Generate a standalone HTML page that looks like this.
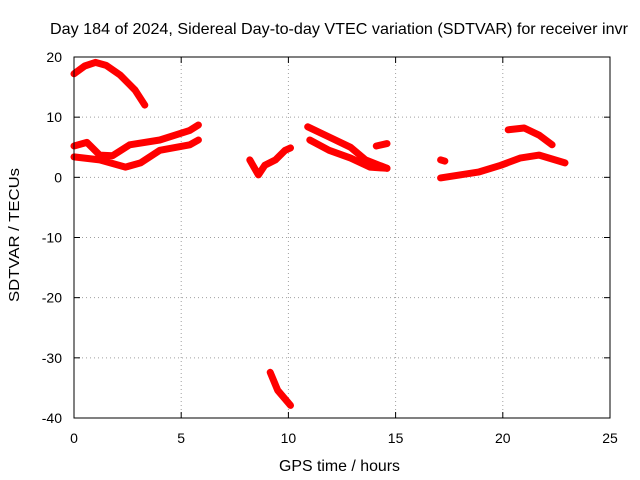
<!DOCTYPE html>
<html><head><meta charset="utf-8"><style>
body{margin:0;background:#fff}
svg{display:block;font-family:"Liberation Sans",sans-serif}
</style></head><body>
<svg id="c" width="640" height="480">
<text x="50" y="34" font-size="16" textLength="578" lengthAdjust="spacingAndGlyphs">Day 184 of 2024, Sidereal Day-to-day VTEC variation (SDTVAR) for receiver invr</text>
<text x="279" y="471" font-size="16" textLength="121" lengthAdjust="spacingAndGlyphs">GPS time / hours</text>
<text transform="translate(19,302) rotate(-90)" font-size="15" textLength="134" lengthAdjust="spacingAndGlyphs">SDTVAR / TECUs</text>
<g id="grid"></g><g id="ticks"></g><g id="marks"></g>
<rect x="74" y="57" width="536" height="361" fill="none" stroke="#000"/>
</svg>
<script>
const xTicks=[0,5,10,15,20,25];
const yTicks=[20,10,0,-10,-20,-30,-40];
const t1=[0,0.5,1,1.5,2.15,2.85,3.3];const v1=[17.2,18.5,19.1,18.6,17,14.5,12];
const t2=[0,0.6,1.2,1.8,2.6,4,5.4,5.8];const v2=[5.2,5.8,3.7,3.6,5.4,6.2,7.8,8.7];
const t3=[0,1.2,2.4,3.1,4,5.4,5.8];const v3=[3.4,2.9,1.7,2.4,4.5,5.4,6.2];
const t4=[8.2,8.6,8.9,9.4,9.85,10.1];const v4=[2.9,0.4,2,2.9,4.5,4.9];
const t5=[9.15,9.5,10.1];const v5=[-32.4,-35.4,-37.9];
const t6=[10.9,11.9,12.9,13.6,14.6];const v6=[8.4,6.7,5,2.9,1.5];
const t7=[11,11.9,12.9,13.8,14.6];const v7=[6.2,4.5,3.2,1.7,1.5];
const t8=[14.1,14.6];const v8=[5.2,5.6];
const t9=[17.1,17.3];const v9=[2.9,2.7];
const t10=[17.1,18,18.9,19.9,20.8,21.7,22.9];const v10=[-0.1,0.4,0.9,2,3.2,3.7,2.4];
const t11=[20.25,21,21.7,22.3];const v11=[7.9,8.2,7,5.4];
const tracks=[[t1,v1],[t2,v2],[t3,v3],[t4,v4],[t5,v5],[t6,v6],[t7,v7],[t8,v8],[t9,v9],[t10,v10],[t11,v11]];
const X=t=>74+t*536/25, Y=v=>57+(20-v)*361/60;
const NS="http://www.w3.org/2000/svg";
function mk(tag,attrs,parent){const e=document.createElementNS(NS,tag);for(const k in attrs)e.setAttribute(k,attrs[k]);document.getElementById(parent).appendChild(e);return e;}
xTicks.forEach(t=>{
 if(t>0&&t<25){const g=mk('line',{x1:X(t),x2:X(t),y1:57,y2:418,stroke:'#a0a0a0','stroke-dasharray':'1,3'},'grid');
 
 }
 mk('line',{x1:X(t),x2:X(t),y1:418,y2:412,stroke:'#000'},'ticks');
 mk('line',{x1:X(t),x2:X(t),y1:57,y2:63,stroke:'#000'},'ticks');
 const l=mk('text',{x:X(t),y:443,'font-size':14,'text-anchor':'middle'},'ticks');l.textContent=t;
 
 
});
yTicks.forEach(v=>{
 if(v<20&&v>-40){const g=mk('line',{x1:74,x2:610,y1:Y(v),y2:Y(v),stroke:'#a0a0a0','stroke-dasharray':'1,3'},'grid');
 
 }
 mk('line',{x1:74,x2:80,y1:Y(v),y2:Y(v),stroke:'#000'},'ticks');
 mk('line',{x1:604,x2:610,y1:Y(v),y2:Y(v),stroke:'#000'},'ticks');
 const l=mk('text',{x:62,y:Y(v)+5,'font-size':14,'text-anchor':'end'},'ticks');l.textContent=v;
 
 
});
tracks.forEach(([ts,vs])=>{
 const pts=ts.map((t,i)=>X(t).toFixed(1)+','+Y(vs[i]).toFixed(1)).join(' ');
 const p=mk('polyline',{points:pts,fill:'none',stroke:'#f00','stroke-width':7,'stroke-linejoin':'round','stroke-linecap':'round'},'marks');
 
 
});
</script>
</body></html>
